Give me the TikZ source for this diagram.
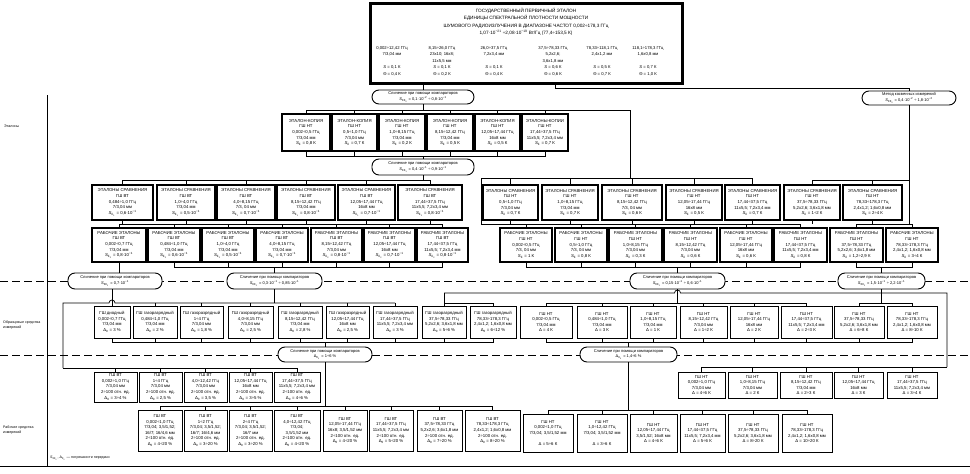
\documentclass[tikz,border=0pt]{standalone}
\usepackage{fontspec}
\setmainfont{Liberation Sans}
\usetikzlibrary{calc}

\newcommand{\boxfont}{\fontsize{4.3}{5.6}\selectfont}
\newcommand{\labfont}{\fontsize{3.6}{5}\selectfont}
\newcommand{\compfont}{\fontsize{4}{5.4}\selectfont}
\newcommand{\titlefont}{\fontsize{4.7}{7.3}\selectfont}
\newcommand{\colfont}{\fontsize{4.2}{6.4}\selectfont}
\newcommand{\Sv}[1]{\textit{S}\textsubscript{#1}}
\newcommand{\Dv}[1]{Δ\textsubscript{#1}}
\newcommand{\tenp}[1]{·10\textsuperscript{−#1}}
\newcommand{\cmpText}{Сличение при помощи компараторов}

\newcommand{\drawBox}[7]{
	\node[#6, minimum width={(#4-#2)*1pt}, minimum height={(#5-#3)*1pt}]
		(#1) at ({(#2+#4)/2},{(#3+#5)/2}) {#7};
}
\newcommand{\drawBus}[3]{
	\draw[link] (#1) -- (#1 |- 0,#2);
	\foreach \ch in {#3} {\draw[link] (#1 |- 0,#2) -| (\ch);}
}
\newcommand{\drawTicks}[2]{
	\foreach \ch in {#2} {\draw[link] (\ch) -- (\ch |- 0,#1);}
}

\begin{document}
\begin{tikzpicture}[x=1pt, y=-1pt,
	etbox/.style={draw, line width=1.2pt, fill=white, align=center, inner sep=0pt, font=\boxfont},
	obbox/.style={draw, line width=0.8pt, fill=white, align=center, inner sep=0pt, font=\boxfont},
	compbox/.style={draw, line width=0.9pt, rounded corners=7pt, fill=white, align=center, inner sep=0pt, font=\compfont},
	link/.style={line width=0.7pt},
	level/.style={line width=0.6pt, dash pattern=on 8pt off 4pt},
	lab/.style={font=\labfont, anchor=west, align=left, inner sep=0pt}]

		\useasboundingbox (0,0) rectangle (970,474);

		% levels and frame
		\draw[level] (0,281) -- (970,281);
		\draw[level] (0,355) -- (970,355);
		\draw[link] (0,466) -- (970,466);
		\draw[link] (47,95) -- (47,466);

		\node[lab] (lblEt) at (4,126) {Эталоны};
		\node[lab] (lblObr) at (3,325) {Образцовые средства\\измерений};
		\node[lab] (lblRab) at (3,430) {Рабочие средства\\измерений};
		\node[lab] (note) at (50,458) {\Sv{ΣΣ\textsubscript{0}}, \Dv{Σ\textsubscript{0}} — погрешности передачи};

		% primary standard
		\drawBox{GPE}{370}{3}{683}{84}{etbox, line width=1.7pt}{}
		\draw[line width=0.5pt] ($(GPE.north west)+(2.5,2.5)$) rectangle ($(GPE.south east)+(-2.5,-2.5)$);
		\node[font=\titlefont, align=center] (title) at (526,22) {ГОСУДАРСТВЕННЫЙ ПЕРВИЧНЫЙ ЭТАЛОН\\ЕДИНИЦЫ СПЕКТРАЛЬНОЙ ПЛОТНОСТИ МОЩНОСТИ\\ШУМОВОГО РАДИОИЗЛУЧЕНИЯ В ДИАПАЗОНЕ ЧАСТОТ 0,002÷178,3 ГГц\\1,07\tenp{21} ÷2,08\tenp{19} Вт/Гц (77,4÷153,5 К)};
		\node[font=\colfont, align=center, anchor=north] (col1) at (392,43) {0,002÷12,42 ГГц\\7/3,04 мм\\~\\\textit{S} = 0,1 К\\Θ = 0,4 К};
		\node[font=\colfont, align=center, anchor=north] (col2) at (442,43) {8,15÷26,0 ГГц\\23х10; 16х8;\\11х5,5 мм\\\textit{S} = 0,1 К\\Θ = 0,2 К};
		\node[font=\colfont, align=center, anchor=north] (col3) at (494,43) {26,0÷37,5 ГГц\\7,2х3,4 мм\\~\\\textit{S} = 0,1 К\\Θ = 0,4 К};
		\node[font=\colfont, align=center, anchor=north] (col4) at (553,43) {37,5÷78,33 ГГц\\5,2х2,6;\\3,6х1,8 мм\\\textit{S} = 0,6 К\\Θ = 0,6 К};
		\node[font=\colfont, align=center, anchor=north] (col5) at (602,43) {78,33÷118,1 ГГц\\2,4х1,2 мм\\~\\\textit{S} = 0,5 К\\Θ = 0,7 К};
		\node[font=\colfont, align=center, anchor=north] (col6) at (648,43) {118,1÷178,3 ГГц\\1,6х0,8 мм\\~\\\textit{S} = 0,7 К\\Θ = 1,0 К};

		% comparisons
		\drawBox{cmp0}{372}{90}{474}{104}{compbox}{\cmpText\\\Sv{ΣΣ\textsubscript{0}} = 0,1\tenp{2} ÷ 0,8\tenp{1}}
		\drawBox{meth}{862}{91}{956}{105}{compbox}{Метод косвенных измерений\\\Sv{ΣΣ\textsubscript{0}} = 0,4\tenp{2} ÷ 1,8\tenp{2}}
		\drawBox{cmp1}{372}{159}{474}{175}{compbox}{\cmpText\\\Sv{ΣΣ\textsubscript{1}} = 0,4\tenp{1} ÷ 0,9\tenp{1}}
		\drawBox{cmp2a}{68}{273}{162}{289}{compbox}{\cmpText\\\Sv{ΣΣ\textsubscript{2}} = 0,7\tenp{1}}
		\drawBox{cmp2b}{227}{273}{322}{289}{compbox}{\cmpText\\\Sv{ΣΣ\textsubscript{2}} = 0,3\tenp{1} ÷ 0,85\tenp{1}}
		\drawBox{cmp2c}{630}{273}{725}{289}{compbox}{\cmpText\\\Sv{ΣΣ\textsubscript{2}} = 0,15\tenp{1} ÷ 0,6\tenp{1}}
		\drawBox{cmp2d}{838}{273}{925}{289}{compbox}{\cmpText\\\Sv{ΣΣ\textsubscript{2}} = 1,5\tenp{1} ÷ 2,2\tenp{1}}
		\drawBox{cmp3a}{278}{347}{372}{362}{compbox}{\cmpText\\\Dv{Σ\textsubscript{0}} = 1÷6 \%}
		\drawBox{cmp3b}{580}{347}{677}{362}{compbox}{\cmpText\\\Dv{Σ\textsubscript{0}} = 1,4÷6 \%}

		% copies
		\drawBox{K1}{282}{114}{330}{151}{etbox}{ЭТАЛОН-КОПИЯ\\ГШ НТ\\0,002÷0,5 ГГц\\7/3,04 мм\\\Sv{Σ} = 0,8 К}
		\drawBox{K2}{332}{114}{377}{151}{etbox}{ЭТАЛОН-КОПИЯ\\ГШ НТ\\0,5÷1,0 ГГц\\7/3,04 мм\\\Sv{Σ} = 0,7 К}
		\drawBox{K3}{379}{114}{425}{151}{etbox}{ЭТАЛОН-КОПИЯ\\ГШ НТ\\1,0÷8,15 ГГц\\7/3,04 мм\\\Sv{Σ} = 0,2 К}
		\drawBox{K4}{427}{114}{473}{151}{etbox}{ЭТАЛОН-КОПИЯ\\ГШ НТ\\8,15÷12,42 ГГц\\7/3,04 мм\\\Sv{Σ} = 0,5 К}
		\drawBox{K5}{475}{114}{520}{151}{etbox}{ЭТАЛОН-КОПИЯ\\ГШ НТ\\12,05÷17,44 ГГц\\16х8 мм\\\Sv{Σ} = 0,5 К}
		\drawBox{K6}{522}{114}{568}{151}{etbox}{ЭТАЛОНЫ-КОПИИ\\ГШ НТ\\17,44÷37,5 ГГц\\11х5,5; 7,2х3,4 мм\\\Sv{Σ} = 0,7 К}

		% comparison standards
		\drawBox{L1}{92}{185}{153}{220}{etbox}{ЭТАЛОНЫ СРАВНЕНИЯ\\ГШ ВТ\\0,484÷1,0 ГГц\\7/3,04 мм\\\Sv{Σ\textsubscript{1}} = 0,6\tenp{1}}
		\drawBox{L2}{157}{185}{215}{220}{etbox}{ЭТАЛОНЫ СРАВНЕНИЯ\\ГШ ВТ\\1,0÷4,0 ГГц\\7/3,04 мм\\\Sv{Σ\textsubscript{1}} = 0,5\tenp{1}}
		\drawBox{L3}{217}{185}{275}{220}{etbox}{ЭТАЛОНЫ СРАВНЕНИЯ\\ГШ ВТ\\4,0÷8,15 ГГц\\7/3, 04 мм\\\Sv{Σ\textsubscript{1}} = 0,7\tenp{1}}
		\drawBox{L4}{277}{185}{335}{220}{etbox}{ЭТАЛОНЫ СРАВНЕНИЯ\\ГШ ВТ\\8,15÷12,42 ГГц\\7/3,04 мм\\\Sv{Σ\textsubscript{1}} = 0,8\tenp{1}}
		\drawBox{L5}{338}{185}{395}{220}{etbox}{ЭТАЛОНЫ СРАВНЕНИЯ\\ГШ ВТ\\12,05÷17,44 ГГц\\16х8 мм\\\Sv{Σ\textsubscript{1}} = 0,7\tenp{1}}
		\drawBox{L6}{398}{185}{462}{220}{etbox}{ЭТАЛОНЫ СРАВНЕНИЯ\\ГШ ВТ\\17,44÷37,5 ГГц\\11х5,5; 7,2х3,4 мм\\\Sv{Σ\textsubscript{1}} = 0,8\tenp{1}}
		\drawBox{R1}{483}{185}{538}{220}{etbox}{ЭТАЛОНЫ СРАВНЕНИЯ\\ГШ НТ\\0,5÷1,0 ГГц\\7/3,04 мм\\\Sv{Σ} = 0,7 К}
		\drawBox{R2}{542}{185}{598}{220}{etbox}{ЭТАЛОНЫ СРАВНЕНИЯ\\ГШ НТ\\1,0÷8,15 ГГц\\7/3,04 мм\\\Sv{Σ} = 0,7 К}
		\drawBox{R3}{602}{185}{662}{220}{etbox}{ЭТАЛОНЫ СРАВНЕНИЯ\\ГШ НТ\\8,15÷12,42 ГГц\\7/3, 04 мм\\\Sv{Σ} = 0,6 К}
		\drawBox{R4}{666}{185}{722}{220}{etbox}{ЭТАЛОНЫ СРАВНЕНИЯ\\ГШ НТ\\12,05÷17,44 ГГц\\16х8 мм\\\Sv{Σ} = 0,5 К}
		\drawBox{R5}{725}{185}{780}{220}{etbox}{ЭТАЛОНЫ СРАВНЕНИЯ\\ГШ НТ\\17,44÷37,5 ГГц\\11х5,5; 7,2х3,4 мм\\\Sv{Σ} = 0,7 К}
		\drawBox{R6}{784}{185}{840}{220}{etbox}{ЭТАЛОНЫ СРАВНЕНИЯ\\ГШ НТ\\37,5÷78,33 ГГц\\5,2х2,6; 3,6х1,8 мм\\\Sv{Σ} = 1÷2 К}
		\drawBox{R7}{843}{185}{902}{220}{etbox}{ЭТАЛОНЫ СРАВНЕНИЯ\\ГШ НТ\\78,33÷178,3 ГГц\\2,4х1,2; 1,6х0,8 мм\\\Sv{Σ} = 2÷4 К}

		% working standards
		\drawBox{W1}{92}{228}{146}{262}{etbox}{РАБОЧИЕ ЭТАЛОНЫ\\ГШ ВТ\\0,002÷0,7 ГГц\\7/3,04 мм\\\Sv{Σ\textsubscript{2}} = 0,8\tenp{1}}
		\drawBox{W2}{148}{228}{200}{262}{etbox}{РАБОЧИЕ ЭТАЛОНЫ\\ГШ ВТ\\0,484÷1,0 ГГц\\7/3,04 мм\\\Sv{Σ\textsubscript{2}} = 0,6\tenp{1}}
		\drawBox{W3}{202}{228}{254}{262}{etbox}{РАБОЧИЕ ЭТАЛОНЫ\\ГШ ВТ\\1,0÷4,0 ГГц\\7/3,04 мм\\\Sv{Σ\textsubscript{2}} = 0,5\tenp{1}}
		\drawBox{W4}{256}{228}{308}{262}{etbox}{РАБОЧИЕ ЭТАЛОНЫ\\ГШ ВТ\\4,0÷8,15 ГГц\\7/3,04 мм\\\Sv{Σ\textsubscript{2}} = 0,7\tenp{1}}
		\drawBox{W5}{311}{228}{362}{262}{etbox}{РАБОЧИЕ ЭТАЛОНЫ\\ГШ ВТ\\8,15÷12,42 ГГц\\7/3,04 мм\\\Sv{Σ\textsubscript{2}} = 0,8\tenp{1}}
		\drawBox{W6}{364}{228}{415}{262}{etbox}{РАБОЧИЕ ЭТАЛОНЫ\\ГШ ВТ\\12,05÷17,44 ГГц\\16х8 мм\\\Sv{Σ\textsubscript{2}} = 0,7\tenp{1}}
		\drawBox{W7}{417}{228}{468}{262}{etbox}{РАБОЧИЕ ЭТАЛОНЫ\\ГШ ВТ\\17,44÷37,5 ГГц\\11х5,5; 7,2х3,4 мм\\\Sv{Σ\textsubscript{2}} = 0,8\tenp{1}}
		\drawBox{V1}{500}{228}{552}{262}{etbox}{РАБОЧИЕ ЭТАЛОНЫ\\ГШ НТ\\0,002÷0,5 ГГц\\7/3, 04 мм\\\Sv{Σ} = 1 К}
		\drawBox{V2}{555}{228}{607}{262}{etbox}{РАБОЧИЕ ЭТАЛОНЫ\\ГШ НТ\\0,5÷1,0 ГГц\\7/3, 04 мм\\\Sv{Σ} = 0,8 К}
		\drawBox{V3}{609}{228}{662}{262}{etbox}{РАБОЧИЕ ЭТАЛОНЫ\\ГШ НТ\\1,0÷8,15 ГГц\\7/3,04 мм\\\Sv{Σ} = 0,3 К}
		\drawBox{V4}{664}{228}{717}{262}{etbox}{РАБОЧИЕ ЭТАЛОНЫ\\ГШ НТ\\8,15÷12,42 ГГц\\7/3,04 мм\\\Sv{Σ} = 0,6 К}
		\drawBox{V5}{720}{228}{772}{262}{etbox}{РАБОЧИЕ ЭТАЛОНЫ\\ГШ НТ\\12,05÷17,44 ГГц\\16х8 мм\\\Sv{Σ} = 0,6 К}
		\drawBox{V6}{774}{228}{827}{262}{etbox}{РАБОЧИЕ ЭТАЛОНЫ\\ГШ НТ\\17,44÷37,5 ГГц\\11х5,5; 7,2х3,4 мм\\\Sv{Σ} = 0,8 К}
		\drawBox{V7}{830}{228}{883}{262}{etbox}{РАБОЧИЕ ЭТАЛОНЫ\\ГШ НТ\\37,5÷78,33 ГГц\\5,2х2,6; 3,6х1,8 мм\\\Sv{Σ} = 1,2÷2,9 К}
		\drawBox{V8}{886}{228}{938}{262}{etbox}{РАБОЧИЕ ЭТАЛОНЫ\\ГШ НТ\\78,33÷178,3 ГГц\\2,4х1,2; 1,6х0,8 мм\\\Sv{Σ} = 3÷4 К}

		% reference instruments
		\drawBox{O1}{94}{306}{130}{338}{obbox}{ГШ диодный\\0,002÷0,7 ГГц\\7/3,04 мм\\\Dv{0} = 3 \%}
		\drawBox{O2}{133}{306}{177}{338}{obbox}{ГШ газоразрядный\\0,484÷1,0 ГГц\\7/3,04 мм\\\Dv{0} = 2 \%}
		\drawBox{O3}{180}{306}{223}{338}{obbox}{ГШ газоразрядный\\1÷4 ГГц\\7/3,04 мм\\\Dv{0} = 1,8 \%}
		\drawBox{O4}{228}{306}{273}{338}{obbox}{ГШ газоразрядный\\4,0÷8,15 ГГц\\7/3,04 мм\\\Dv{0} = 2,5 \%}
		\drawBox{O5}{278}{306}{322}{338}{obbox}{ГШ газоразрядный\\8,15÷12,42 ГГц\\7/3,04 мм\\\Dv{0} = 2,8 \%}
		\drawBox{O6}{326}{306}{369}{338}{obbox}{ГШ газоразрядный\\12,05÷17,44 ГГц\\16х8 мм\\\Dv{0} = 2,5 \%}
		\drawBox{O7}{373}{306}{417}{338}{obbox}{ГШ газоразрядный\\17,44÷37,5 ГГц\\11х5,5; 7,2х3,4 мм\\\Dv{0} = 3 \%}
		\drawBox{O8}{422}{306}{466}{338}{obbox}{ГШ газоразрядный\\37,5÷78,33 ГГц\\5,2х2,6; 3,6х1,8 мм\\\Dv{0} = 5÷6 \%}
		\drawBox{O9}{470}{306}{516}{338}{obbox}{ГШ газоразрядный\\78,33÷178,3 ГГц\\2,4х1,2; 1,6х0,8 мм\\\Dv{0} = 6÷12 \%}
		\drawBox{P1}{520}{306}{572}{338}{obbox}{ГШ НТ\\0,002÷0,5 ГГц\\7/3,04 мм\\Δ = 4 К}
		\drawBox{P2}{577}{306}{627}{338}{obbox}{ГШ НТ\\0,484÷1,0 ГГц\\7/3,04 мм\\Δ = 3 К}
		\drawBox{P3}{630}{306}{676}{338}{obbox}{ГШ НТ\\1,0÷8,15 ГГц\\7/3,04 мм\\Δ = 1 К}
		\drawBox{P4}{680}{306}{727}{338}{obbox}{ГШ НТ\\8,15÷12,42 ГГц\\7/3,04 мм\\Δ = 1÷2 К}
		\drawBox{P5}{730}{306}{778}{338}{obbox}{ГШ НТ\\12,05÷17,44 ГГц\\16х8 мм\\Δ = 2 К}
		\drawBox{P6}{781}{306}{832}{338}{obbox}{ГШ НТ\\17,44÷37,5 ГГц\\11х5,5; 7,2х3,4 мм\\Δ = 2÷3 К}
		\drawBox{P7}{834}{306}{884}{338}{obbox}{ГШ НТ\\37,5÷78,33 ГГц\\5,2х2,6; 3,6х1,8 мм\\Δ = 6÷8 К}
		\drawBox{P8}{887}{306}{937}{338}{obbox}{ГШ НТ\\78,33÷178,3 ГГц\\2,4х1,2; 1,6х0,8 мм\\Δ = 8÷10 К}

		% working instruments
		\drawBox{X1}{94}{372}{137}{402}{obbox}{ГШ ВТ\\0,002÷1,0 ГГц\\7/3,04 мм\\2÷100 отн. ед.\\\Dv{0} = 3÷4 \%}
		\drawBox{X2}{139}{372}{182}{402}{obbox}{ГШ ВТ\\1÷4 ГГц\\7/3,04 мм\\2÷100 отн. ед.\\\Dv{0} = 2,5 \%}
		\drawBox{X3}{184}{372}{227}{402}{obbox}{ГШ ВТ\\4,0÷12,42 ГГц\\7/3,04 мм\\2÷100 отн. ед.\\\Dv{0} = 3,5 \%}
		\drawBox{X4}{229}{372}{272}{402}{obbox}{ГШ ВТ\\12,05÷17,44 ГГц\\16х8 мм\\2÷100 отн. ед.\\\Dv{0} = 3÷5 \%}
		\drawBox{X5}{274}{372}{320}{402}{obbox}{ГШ ВТ\\17,44÷37,5 ГГц\\11х5,5; 7,2х3,4 мм\\2÷100 отн. ед.\\\Dv{0} = 4÷6 \%}
		\drawBox{Y1}{138}{410}{182}{451}{obbox}{ГШ ВТ\\0,002÷1,0 ГГц\\7/3,04; 3,5/1,52;\\16/7; 16/4,6 мм\\2÷100 отн. ед.\\\Dv{0} = 4÷20 \%}
		\drawBox{Y2}{184}{410}{227}{451}{obbox}{ГШ ВТ\\1÷2 ГГц\\7/3,04; 3,5/1,52;\\16/7; 16/4,6 мм\\2÷100 отн. ед.\\\Dv{0} = 3÷20 \%}
		\drawBox{Y3}{229}{410}{272}{451}{obbox}{ГШ ВТ\\2÷4 ГГц\\7/3,04; 3,5/1,52;\\16/7 мм\\2÷100 отн. ед.\\\Dv{0} = 3÷20 \%}
		\drawBox{Y4}{274}{410}{320}{451}{obbox}{ГШ ВТ\\4,0÷12,42 ГГц\\7/3,04;\\3,5/1,52 мм\\2÷100 отн. ед.\\\Dv{0} = 4÷20 \%}
		\drawBox{Y5}{323}{410}{367}{451}{obbox}{ГШ ВТ\\12,05÷17,44 ГГц\\16х8; 3,5/1,52 мм\\2÷100 отн. ед.\\\Dv{0} = 4÷20 \%}
		\drawBox{Y6}{369}{410}{413}{451}{obbox}{ГШ ВТ\\17,44÷37,5 ГГц\\11х5,5; 7,2х3,4 мм\\2÷100 отн. ед.\\\Dv{0} = 5÷20 \%}
		\drawBox{Y7}{417}{410}{462}{451}{obbox}{ГШ ВТ\\37,5÷78,33 ГГц\\5,2х2,6; 3,6х1,8 мм\\2÷100 отн. ед.\\\Dv{0} = 7÷20 \%}
		\drawBox{Y8}{465}{410}{520}{451}{obbox}{ГШ ВТ\\78,33÷178,3 ГГц\\2,4х1,2; 1,6х0,8 мм\\2÷100 отн. ед.\\\Dv{0} = 8÷20 \%}
		\drawBox{Q1}{678}{372}{725}{398}{obbox}{ГШ НТ\\0,002÷1,0 ГГц\\7/3,04 мм\\Δ = 4÷6 К}
		\drawBox{Q2}{728}{372}{777}{398}{obbox}{ГШ НТ\\1,0÷8,15 ГГц\\7/3,04 мм\\Δ = 2 К}
		\drawBox{Q3}{780}{372}{832}{398}{obbox}{ГШ НТ\\8,15÷12,42 ГГц\\7/3,04 мм\\Δ = 2÷3 К}
		\drawBox{Q4}{834}{372}{883}{398}{obbox}{ГШ НТ\\12,05÷17,44 ГГц\\16х8 мм\\Δ = 3 К}
		\drawBox{Q5}{887}{372}{937}{398}{obbox}{ГШ НТ\\17,44÷37,5 ГГц\\11х5,5; 7,2х3,4 мм\\Δ = 3÷4 К}
		\drawBox{Z1}{523}{414}{573}{452}{obbox}{ГШ НТ\\0,002÷1,0 ГГц\\7/3,04; 3,5/1,52 мм\\~\\Δ = 5÷6 К}
		\drawBox{Z2}{577}{414}{627}{452}{obbox}{ГШ НТ\\1,0÷12,42 ГГц\\7/3,04; 3,5/1,52 мм\\~\\Δ = 3÷6 К}
		\drawBox{Z3}{630}{414}{677}{452}{obbox}{ГШ НТ\\12,05÷17,44 ГГц\\3,5/1,52; 16х8 мм\\Δ = 4÷6 К}
		\drawBox{Z4}{680}{414}{725}{452}{obbox}{ГШ НТ\\17,44÷37,5 ГГц\\11х5,5; 7,2х3,4 мм\\Δ = 5÷6 К}
		\drawBox{Z5}{728}{414}{778}{452}{obbox}{ГШ НТ\\37,5÷78,33 ГГц\\5,2х2,6; 3,6х1,8 мм\\Δ = 8÷20 К}
		\drawBox{Z6}{782}{414}{832}{452}{obbox}{ГШ НТ\\78,33÷178,3 ГГц\\2,4х1,2; 1,6х0,8 мм\\Δ = 10÷20 К}

		% links: standards
		\draw[link] (GPE.south -| cmp0.north) -- (cmp0.north);
		\draw[link] (GPE.south -| 555,0) |- (meth.north |- 0,88) -- (meth.north);
		\drawBus{cmp0.south}{110}{K1.north,K2.north,K3.north,K4.north,K5.north,K6.north}
		\coordinate (RJ) at (630,178);
		\coordinate (VJ) at (481,224);
		\draw[link] (K6.north |- 0,110) -| (RJ);
		\drawBus{cmp1.north}{156}{K1.south,K2.south,K3.south,K4.south,K5.south,K6.south}
		\drawBus{cmp1.south}{180}{L1.north,L2.north,L3.north,L4.north,L5.north,L6.north}
		\draw[link] (W1.north |- 0,224) -- (W7.north |- 0,224);
		\drawTicks{224}{L1.south,L2.south,L3.south,L4.south,L5.south,L6.south,W1.north,W2.north,W3.north,W4.north,W5.north,W6.north,W7.north}
		\draw[link] (VJ |- RJ) -- (R5.north |- RJ);
		\drawTicks{178}{R1.north,R2.north,R3.north,R4.north,R5.north}
		\draw[link] (VJ |- RJ) -- (VJ) -- (V6.north |- VJ);
		\drawTicks{224}{R1.south,R2.south,R3.south,R4.south,R5.south,V1.north,V2.north,V3.north,V4.north,V5.north,V6.north}
		\draw[link] (meth.south) -- (meth.south |- VJ);
		\draw[link] (R6.north |- 0,180) -- (meth.south |- 0,180);
		\drawTicks{180}{R6.north,R7.north}
		\draw[link] (V7.north |- VJ) -- (V8.north |- VJ);
		\drawTicks{224}{R6.south,R7.south,V7.north,V8.north}

		% links: comparisons of working standards
		\draw[link] (W1.south) -- (W1.south |- cmp2a.north);
		\drawBus{cmp2b.north}{267}{W2.south,W3.south,W4.south,W5.south,W6.south,W7.south}
		\drawBus{cmp2c.north}{267}{V1.south,V2.south,V3.south,V4.south,V5.south,V6.south}
		\drawBus{cmp2d.north}{267}{V7.south,V8.south}

		% links: reference instruments
		\coordinate (XJ) at (63,368);
		\coordinate (HJ) at (947,293);
		\draw[link] (cmp2a.south -| O1.north) -- (O1.north);
		\draw[link] (cmp2b.south) -- (cmp2b.south |- 0,303);
		\draw[link] (XJ) -- (XJ |- 0,303) -- ($(O1.north |- 0,303)+(-3,0)$) arc (180:360:3) -- (O7.north |- 0,303);
		\drawTicks{303}{O2.north,O3.north,O4.north,O5.north,O6.north,O7.north}
		\draw[link] (O8.north |- HJ) -- ($(cmp2c.south |- HJ)+(-3,0)$) arc (180:360:3) -- (HJ) -- (HJ |- 0,367);
		\draw[link] (O8.north |- HJ) -- (O8.north);
		\draw[link] (O8.north |- 0,303) -| (O9.north);
		\draw[link] (cmp2c.south) -- (cmp2c.south |- 0,303);
		\draw[link] (P1.north |- 0,303) -- (P6.north |- 0,303);
		\drawTicks{303}{P1.north,P2.north,P3.north,P4.north,P5.north,P6.north}
		\draw[link] (cmp2d.south) -- (cmp2d.south |- 0,303);
		\draw[link] (P7.north |- 0,303) -- (P8.north |- 0,303);
		\drawTicks{303}{P7.north,P8.north}
		\drawBus{cmp3a.north}{342}{O1.south,O2.south,O3.south,O4.south,O5.south,O6.south,O7.south,O8.south,O9.south}
		\drawBus{cmp3b.north}{342}{P1.south,P2.south,P3.south,P4.south,P5.south,P6.south,P7.south,P8.south}

		% links: working instruments
		\draw[link] (XJ) -- (X5.north |- XJ);
		\drawTicks{368}{X1.north,X2.north,X3.north,X4.north,X5.north}
		\drawBus{cmp3a.south}{406}{Y1.north,Y2.north,Y3.north,Y4.north,Y5.north,Y6.north,Y7.north,Y8.north}
		\drawBus{cmp3b.south}{410}{Z1.north,Z2.north,Z3.north,Z4.north,Z5.north,Z6.north}
		\draw[link] (Q1.north |- 0,367) -- (HJ |- 0,367);
		\drawTicks{367}{Q1.north,Q2.north,Q3.north,Q4.north,Q5.north}

	\end{tikzpicture}
\end{document}
